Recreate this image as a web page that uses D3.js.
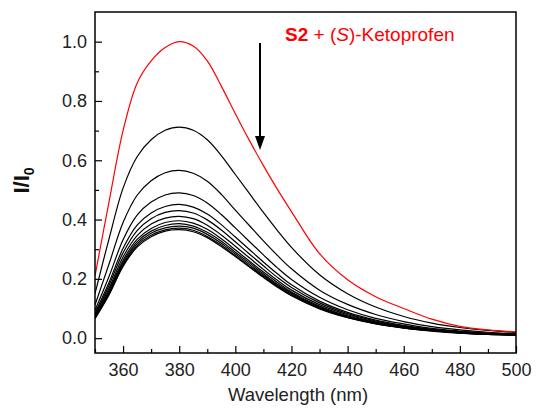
<!DOCTYPE html>
<html>
<head>
<meta charset="utf-8">
<script src="https://cdn.jsdelivr.net/npm/d3@7"></script>
<style>
  body { margin: 0; background: #fff; }
  svg text { font-family: "Liberation Sans", Arial, Helvetica, sans-serif; }
</style>
</head>
<body>
<svg id="chart" width="538" height="409"></svg>
<script>
// Emission wavelengths (nm) shared by every spectrum
const wavelengths = [350, 355, 360, 365, 370, 375, 380, 385, 390, 395, 400, 405, 410, 415, 420,
                     430, 440, 450, 460, 470, 480, 490, 500];

// Free S2 with (S)-Ketoprofen: first spectrum, normalised intensity I/I0
const redSpectrum = [0.21, 0.46, 0.70, 0.86, 0.935, 0.98, 1.0, 0.985, 0.935, 0.85, 0.757, 0.667, 0.582, 0.502, 0.427,
                     0.285, 0.197, 0.14, 0.10, 0.064, 0.04, 0.028, 0.021];

// Titration spectra, decreasing intensity
const titrationSpectra = [
  [0.150, 0.335, 0.506, 0.612, 0.669, 0.701, 0.712, 0.701, 0.669, 0.616, 0.552, 0.488, 0.424, 0.363, 0.306,
   0.214, 0.150, 0.105, 0.073, 0.051, 0.036, 0.026, 0.019],
  [0.112, 0.250, 0.390, 0.482, 0.531, 0.558, 0.566, 0.556, 0.529, 0.485, 0.432, 0.380, 0.328, 0.279, 0.234,
   0.162, 0.114, 0.080, 0.056, 0.039, 0.028, 0.020, 0.015],
  [0.094, 0.208, 0.332, 0.415, 0.459, 0.483, 0.490, 0.481, 0.456, 0.417, 0.372, 0.326, 0.281, 0.237, 0.198,
   0.138, 0.096, 0.067, 0.048, 0.033, 0.024, 0.017, 0.014],
  [0.085, 0.188, 0.303, 0.381, 0.422, 0.444, 0.451, 0.442, 0.419, 0.383, 0.341, 0.299, 0.257, 0.217, 0.180,
   0.125, 0.087, 0.061, 0.043, 0.030, 0.022, 0.016, 0.013],
  [0.080, 0.178, 0.288, 0.363, 0.403, 0.424, 0.430, 0.422, 0.399, 0.365, 0.325, 0.284, 0.244, 0.205, 0.171,
   0.119, 0.083, 0.058, 0.041, 0.029, 0.020, 0.015, 0.012],
  [0.076, 0.168, 0.274, 0.346, 0.385, 0.405, 0.411, 0.403, 0.381, 0.348, 0.310, 0.271, 0.232, 0.195, 0.162,
   0.113, 0.079, 0.055, 0.039, 0.028, 0.020, 0.014, 0.012],
  [0.072, 0.161, 0.263, 0.333, 0.370, 0.390, 0.396, 0.388, 0.367, 0.335, 0.298, 0.260, 0.223, 0.188, 0.156,
   0.108, 0.075, 0.053, 0.037, 0.026, 0.019, 0.014, 0.011],
  [0.070, 0.156, 0.256, 0.325, 0.361, 0.380, 0.386, 0.378, 0.357, 0.327, 0.290, 0.254, 0.217, 0.182, 0.152,
   0.105, 0.073, 0.051, 0.036, 0.026, 0.018, 0.014, 0.011],
  [0.068, 0.152, 0.250, 0.318, 0.354, 0.372, 0.378, 0.371, 0.350, 0.320, 0.284, 0.248, 0.212, 0.178, 0.148,
   0.102, 0.071, 0.050, 0.035, 0.025, 0.018, 0.013, 0.011],
  [0.067, 0.149, 0.245, 0.312, 0.347, 0.365, 0.371, 0.364, 0.343, 0.314, 0.278, 0.243, 0.208, 0.175, 0.145,
   0.100, 0.070, 0.049, 0.035, 0.025, 0.017, 0.013, 0.010],
  [0.066, 0.146, 0.242, 0.307, 0.342, 0.361, 0.366, 0.359, 0.339, 0.309, 0.275, 0.240, 0.205, 0.172, 0.143,
   0.099, 0.069, 0.048, 0.034, 0.024, 0.017, 0.013, 0.010]
];

const xMajorTicks = [360, 380, 400, 420, 440, 460, 480, 500];
const xMinorTicks = [350, 370, 390, 410, 430, 450, 470, 490];
const yMajorTicks = [0.0, 0.2, 0.4, 0.6, 0.8, 1.0];
const yMinorTicks = [0.1, 0.3, 0.5, 0.7, 0.9];

const svg = d3.select("#chart");
const margin = { left: 95, right: 22, top: 12, bottom: 56 };
const W = 538, H = 409;
const x = d3.scaleLinear().domain([350, 500]).range([margin.left, W - margin.right]);
const y = d3.scaleLinear().domain([-0.05, 1.1]).range([H - margin.bottom, margin.top]);

// clip region for the spectra
svg.append("defs").append("clipPath").attr("id", "plotClip")
  .append("rect")
  .attr("x", x(350)).attr("y", y(1.1))
  .attr("width", x(500) - x(350)).attr("height", y(-0.05) - y(1.1));

const line = d3.line()
  .x((d, i) => x(wavelengths[i]))
  .y(d => y(d))
  .curve(d3.curveCatmullRom.alpha(0.5));

const curves = svg.append("g").attr("clip-path", "url(#plotClip)");
curves.selectAll("path.titration")
  .data(titrationSpectra)
  .join("path")
  .attr("class", "titration")
  .attr("d", line)
  .attr("fill", "none")
  .attr("stroke", "#000")
  .attr("stroke-width", 1.2);

curves.append("path")
  .datum(redSpectrum)
  .attr("d", line)
  .attr("fill", "none")
  .attr("stroke", "#ff0000")
  .attr("stroke-width", 1.2);

// axes: ticks point inward
const fontSize = "18px";
svg.append("g").attr("transform", `translate(0,${y(-0.05)})`)
  .call(d3.axisBottom(x).tickValues(xMajorTicks).tickFormat(d3.format("d"))
        .tickSizeInner(-7).tickSizeOuter(0).tickPadding(10));
svg.append("g").attr("transform", `translate(0,${y(-0.05)})`)
  .call(d3.axisBottom(x).tickValues(xMinorTicks).tickFormat("")
        .tickSizeInner(-4).tickSizeOuter(0));

svg.append("g").attr("transform", `translate(${x(350)},0)`)
  .call(d3.axisLeft(y).tickValues(yMajorTicks).tickFormat(d3.format(".1f"))
        .tickSizeInner(-7).tickSizeOuter(0).tickPadding(8));
svg.append("g").attr("transform", `translate(${x(350)},0)`)
  .call(d3.axisLeft(y).tickValues(yMinorTicks).tickFormat("")
        .tickSizeInner(-4).tickSizeOuter(0));

svg.selectAll(".tick line").attr("stroke", "#000").attr("stroke-width", 1.2);
svg.selectAll(".domain").attr("stroke", "none");
svg.selectAll(".tick text")
  .attr("font-size", fontSize)
  .attr("fill", "#222");

// frame around the plot
svg.append("rect")
  .attr("x", x(350)).attr("y", y(1.1))
  .attr("width", x(500) - x(350)).attr("height", y(-0.05) - y(1.1))
  .attr("fill", "none").attr("stroke", "#000").attr("stroke-width", 1.5);

// axis titles
svg.append("text")
  .attr("x", 298).attr("y", 401)
  .attr("text-anchor", "middle")
  .attr("font-size", "18.5px")
  .attr("fill", "#222")
  .text("Wavelength (nm)");

const yTitle = svg.append("text")
  .attr("transform", `translate(29,${(y(-0.05) + y(1.1)) / 2 - 2}) rotate(-90)`)
  .attr("text-anchor", "middle")
  .attr("font-size", "22px")
  .attr("font-weight", "bold")
  .attr("fill", "#111");
yTitle.append("tspan").text("I/I");
yTitle.append("tspan").attr("font-size", "14px").attr("dy", "5").text("0");

// legend label
const label = svg.append("text")
  .attr("x", 285).attr("y", 41)
  .attr("font-size", "19px")
  .attr("fill", "#ff0000");
label.append("tspan").attr("font-weight", "bold").text("S2");
label.append("tspan").text(" + (");
label.append("tspan").attr("font-style", "italic").text("S");
label.append("tspan").text(")-Ketoprofen");

// arrow showing the quenching direction
const arrowX = 260;
svg.append("line")
  .attr("x1", arrowX).attr("x2", arrowX)
  .attr("y1", 43).attr("y2", 140)
  .attr("stroke", "#000").attr("stroke-width", 2);
svg.append("path")
  .attr("d", `M${arrowX - 5},136 L${arrowX + 5},136 L${arrowX},150 Z`)
  .attr("fill", "#000");
</script>
</body>
</html>
